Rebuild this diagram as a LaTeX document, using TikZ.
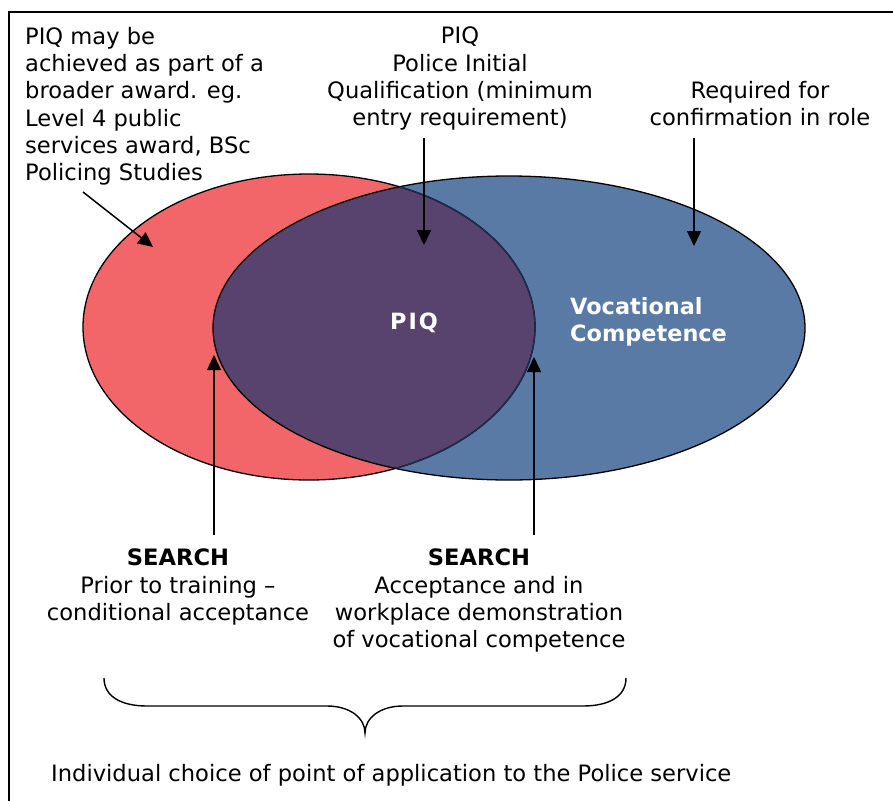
\documentclass[tikz,border=0pt]{standalone}
\usepackage{fontspec}
\setmainfont{DejaVu Sans}
\usetikzlibrary{arrows.meta}
\definecolor{redset}{RGB}{242,102,106}
\definecolor{blueset}{RGB}{88,122,165}
\definecolor{bothset}{RGB}{88,66,110}
\definecolor{rimset}{RGB}{30,45,80}
\newcommand\redpath{(309,327) ellipse [x radius=226pt, y radius=153pt]}
\newcommand\bluepath{(509,328) ellipse [x radius=296pt, y radius=152pt]}
\begin{document}
\begin{tikzpicture}[x=1pt,y=-1pt,
    note/.style={inner sep=0pt,font=\fontsize{22.6}{27.3}\selectfont},
    setlabel/.style={inner sep=0pt,text=white,font=\fontsize{22.4}{27}\selectfont\bfseries},
    pointer/.style={line width=1.5pt,-{Triangle[width=14pt,length=15pt]}},
    rim/.style={line width=1.3pt}]
    \useasboundingbox (0,0) rectangle (893,800);
    \draw[line width=1.2pt] (9,815) -- (9,12) -- (900,12);
    % the two sets
    \fill[redset] \redpath;
    \fill[blueset] \bluepath;
    \begin{scope}
        \clip \redpath;
        \fill[bothset] \bluepath;
    \end{scope}
    \draw[rim] \redpath;
    \draw[rim] \bluepath;
    \begin{scope}
        \clip \bluepath;
        \draw[rim,rimset] \redpath;
    \end{scope}
    \node[setlabel] (piq) at (414,323) {P\kern2pt I\kern2pt Q};
    \node[setlabel,align=left,anchor=north west] (voc) at (570,297) {Vocational\\Competence};
    % texts
    \node[note,align=left,anchor=north west] (award) at (25,27) {PIQ may be\\achieved as part of a\\broader award. eg.\\Level 4 public\\services award, BSc\\Policing Studies};
    \node[note,align=center,anchor=north] (entry) at (460,27) {PIQ\\Police Initial\\Qualification (minimum\\entry requirement)};
    \node[note,align=center,anchor=north] (role) at (760,81) {Required for\\confirmation in role};
    \node[note,align=center,anchor=north] (searchA) at (178,549) {\textbf{SEARCH}\\Prior to training --\\conditional acceptance};
    \node[note,align=center,anchor=north] (searchB) at (479,549) {\textbf{SEARCH}\\Acceptance and in\\workplace demonstration\\of vocational competence};
    \node[note,anchor=north west] (choice) at (51,764) {Individual choice of point of application to the Police service};
    % arrows
    \coordinate (awardtail) at (83,192);
    \coordinate (awardtip) at (153,247);
    \coordinate (entrytail) at (424,138);
    \coordinate (entrytip) at (424,245);
    \coordinate (roletail) at (694,138);
    \coordinate (roletip) at (694,246);
    \coordinate (searchAtail) at (214,535);
    \coordinate (searchAtip) at (214,355);
    \coordinate (searchBtail) at (534,535);
    \coordinate (searchBtip) at (534,357);
    \draw[pointer] (awardtail) -- (awardtip);
    \draw[pointer] (entrytail) -- (entrytip);
    \draw[pointer] (roletail) -- (roletip);
    \draw[pointer] (searchAtail) -- (searchAtip);
    \draw[pointer] (searchBtail) -- (searchBtip);
    % brace
    \coordinate (braceL) at (104,678);
    \coordinate (braceR) at (626,678);
    \coordinate (bracetip) at (365,733);
    \draw[line width=1.4pt] (braceL) .. controls (104,697) and (122,706) .. (147,706) -- (327,706)
        .. controls (350,706) and (365,718) .. (bracetip)
        .. controls (365,718) and (380,706) .. (403,706) -- (583,706)
        .. controls (608,706) and (626,697) .. (braceR);
\end{tikzpicture}
\end{document}
